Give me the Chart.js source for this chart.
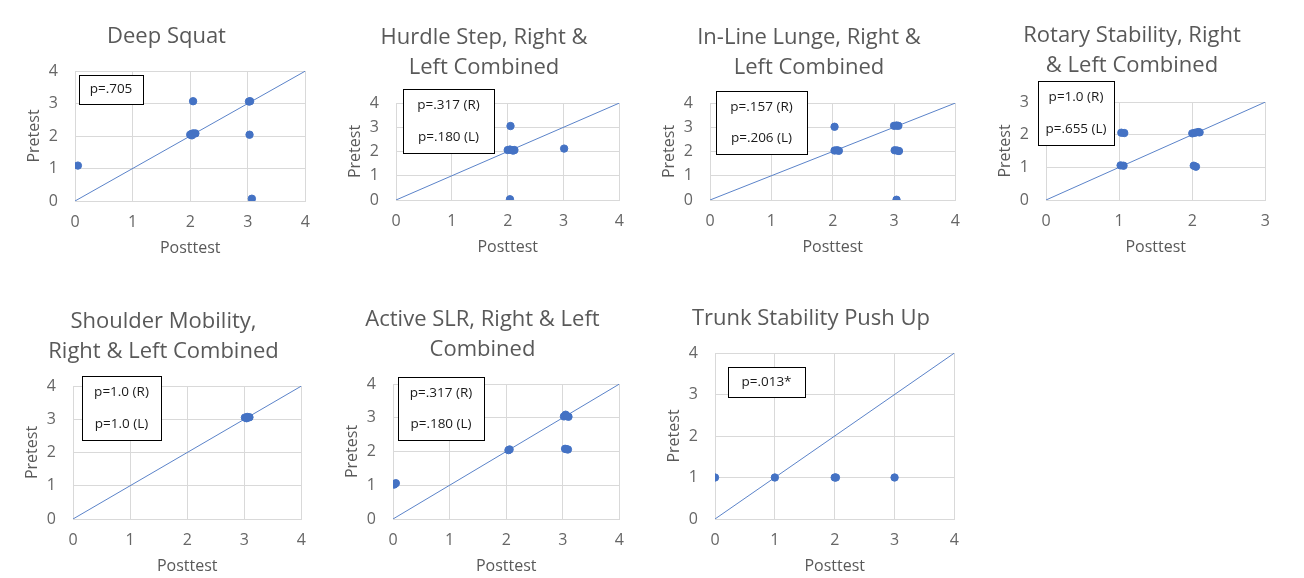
<!DOCTYPE html>
<html>
<head>
<meta charset="utf-8">
<script src="https://cdn.jsdelivr.net/npm/chart.js@4.4.0/dist/chart.umd.min.js"></script>
<style>
  body { margin: 0; background: #fff; width: 1304px; height: 578px; overflow: hidden; position: relative; }
  canvas { position: absolute; }
</style>
</head>
<body>
<script>
// posttest (x) / pretest (y) scores (small jitter as plotted)
const deepSquatPost = [0.05, 2.05, 3.02, 3.04, 2.0, 2.02, 2.05, 2.09, 2.03, 3.03, 3.07];
const deepSquatPre  = [1.09, 3.07, 3.06, 3.07, 2.04, 2.06, 2.08, 2.08, 2.02, 2.04, 0.07];

const hurdlePost = [2.05, 2.0, 2.04, 2.08, 2.12, 2.1, 3.01, 2.04];
const hurdlePre  = [3.05, 2.06, 2.08, 2.05, 2.06, 2.04, 2.12, 0.03];

const lungePost = [2.03, 3.0, 3.04, 3.07, 2.03, 2.07, 2.1, 3.01, 3.05, 3.08, 3.04];
const lungePre  = [3.02, 3.06, 3.07, 3.06, 2.04, 2.05, 2.03, 2.05, 2.04, 2.02, 0.01];

const rotaryPost = [1.03, 1.07, 1.02, 1.06, 2.0, 2.04, 2.08, 2.1, 2.02, 2.05];
const rotaryPre  = [2.06, 2.05, 1.06, 1.05, 2.04, 2.06, 2.08, 2.07, 1.05, 1.02];

const shoulderPost = [3.01, 3.05, 3.09, 3.04];
const shoulderPre  = [3.05, 3.07, 3.06, 3.03];

const slrPost = [0.02, 0.05, 2.04, 2.06, 3.02, 3.05, 3.1, 3.07, 3.04, 3.09, 3.06];
const slrPre  = [1.02, 1.06, 2.04, 2.06, 3.04, 3.09, 3.03, 3.05, 2.08, 2.06, 2.07];

const trunkPost = [0, 1, 2, 2.02, 3];
const trunkPre  = [1, 1, 1, 1, 1];

const panelTitles = [
  ['Deep Squat'],
  ['Hurdle Step, Right &', 'Left Combined'],
  ['In-Line Lunge, Right &', 'Left Combined'],
  ['Rotary Stability, Right', '& Left Combined'],
  ['Shoulder Mobility,', 'Right & Left Combined'],
  ['Active SLR, Right & Left', 'Combined'],
  ['Trunk Stability Push Up']
];
const pValues = [
  ['p=.705'],
  ['p=.317 (R)', 'p=.180 (L)'],
  ['p=.157 (R)', 'p=.206 (L)'],
  ['p=1.0 (R)', 'p=.655 (L)'],
  ['p=1.0 (R)', 'p=1.0 (L)'],
  ['p=.317 (R)', 'p=.180 (L)'],
  ['p=.013*']
];
const axisMax = [4, 4, 4, 3, 4, 4, 4];
const xTitle = 'Posttest';
const yTitle = 'Pretest';

const postSeries = [deepSquatPost, hurdlePost, lungePost, rotaryPost, shoulderPost, slrPost, trunkPost];
const preSeries  = [deepSquatPre, hurdlePre, lungePre, rotaryPre, shoulderPre, slrPre, trunkPre];

// layout of each panel on the page (plot area, title line centre, p-value box)
const layout = [
  { top: 0,   area: { l: 75,   r: 308,  t: 71,  b: 201 }, titleY: 37, box: { x: 79,   y: 75,  w: 64, h: 29 } },
  { top: 0,   area: { l: 396,  r: 622,  t: 103, b: 200 }, titleY: 38, box: { x: 403,  y: 89,  w: 91, h: 64 } },
  { top: 0,   area: { l: 710,  r: 958,  t: 103, b: 200 }, titleY: 38, box: { x: 716,  y: 91,  w: 91, h: 63 } },
  { top: 0,   area: { l: 1046, r: 1268, t: 102, b: 200 }, titleY: 36, box: { x: 1038, y: 81,  w: 76, h: 64 } },
  { top: 290, area: { l: 73,   r: 304,  t: 386, b: 519 }, titleY: 322, box: { x: 82,  y: 376, w: 79, h: 64 } },
  { top: 290, area: { l: 393,  r: 622,  t: 384, b: 519 }, titleY: 320, box: { x: 398, y: 377, w: 86, h: 63 } },
  { top: 290, area: { l: 715,  r: 957,  t: 353, b: 519 }, titleY: 319, box: { x: 728, y: 367, w: 77, h: 30 } }
];

const BLUE = '#4472C4';
const GREY = '#595959';
const TICK_GREY = '#666666';
const GRID = '#d9d9d9';
const FONT = '"Open Sans", "Noto Sans", sans-serif';
const TITLE_SIZE = 22;
const TITLE_LH = 30;
const Y_AXIS_W = 50;
const X_AXIS_H = 58;

const noteBox = {
  id: 'noteBox',
  afterDraw(chart, args, opts) {
    const ctx = chart.ctx;
    const b = opts.box;
    ctx.save();
    ctx.fillStyle = '#ffffff';
    ctx.fillRect(b.x, b.y, b.w, b.h);
    ctx.strokeStyle = '#000000';
    ctx.lineWidth = 1;
    ctx.strokeRect(Math.round(b.x) + 0.5, Math.round(b.y) + 0.5, b.w, b.h);
    ctx.fillStyle = '#1a1a1a';
    ctx.font = '13.5px ' + FONT;
    ctx.textAlign = 'center';
    ctx.textBaseline = 'middle';
    const n = opts.lines.length;
    opts.lines.forEach((t, i) => {
      ctx.fillText(t, b.x + b.w / 2, b.y + b.h * (2 * i + 1) / (2 * n));
    });
    ctx.restore();
  }
};

function buildPanel(i) {
  const L = layout[i];
  const padL = 5, padR = 14, padB = 2;
  const left = L.area.l - Y_AXIS_W - padL;
  const width = L.area.r - left + padR;
  const height = L.area.b - L.top + X_AXIS_H + padB;
  const lines = panelTitles[i].length;
  const titlePadTop = L.titleY - L.top - TITLE_LH / 2;
  const titlePadBottom = L.area.t - L.top - titlePadTop - lines * TITLE_LH;

  const canvas = document.createElement('canvas');
  canvas.width = width;
  canvas.height = height;
  canvas.style.left = left + 'px';
  canvas.style.top = L.top + 'px';
  canvas.style.width = width + 'px';
  canvas.style.height = height + 'px';
  document.body.appendChild(canvas);

  const points = postSeries[i].map((x, k) => ({ x: x, y: preSeries[i][k] }));
  const max = axisMax[i];

  new Chart(canvas.getContext('2d'), {
    type: 'scatter',
    data: {
      datasets: [{
        type: 'scatter',
        data: points,
        backgroundColor: BLUE,
        borderColor: BLUE,
        pointRadius: 3.7,
        pointHoverRadius: 3.7,
        order: 0
      }, {
        type: 'line',
        data: [{ x: 0, y: 0 }, { x: max, y: max }],
        borderColor: '#5b83c9',
        borderWidth: 1,
        pointRadius: 0,
        fill: false,
        order: 1
      }]
    },
    options: {
      responsive: false,
      animation: false,
      devicePixelRatio: 1,
      layout: { padding: { left: padL, right: padR, top: 0, bottom: padB } },
      plugins: {
        legend: { display: false },
        tooltip: { enabled: false },
        title: {
          display: true,
          text: panelTitles[i],
          color: GREY,
          font: { family: FONT, size: TITLE_SIZE, weight: 'normal', lineHeight: TITLE_LH / TITLE_SIZE },
          padding: { top: titlePadTop, bottom: titlePadBottom }
        },
        noteBox: {
          lines: pValues[i],
          box: { x: L.box.x - left, y: L.box.y - L.top, w: L.box.w, h: L.box.h }
        }
      },
      scales: {
        x: {
          type: 'linear',
          min: 0,
          max: max,
          afterFit(scale) { scale.height = X_AXIS_H; },
          ticks: { stepSize: 1, color: TICK_GREY, padding: 12, font: { family: FONT, size: 16 } },
          grid: { color: GRID, drawTicks: false },
          border: { color: GRID },
          title: { display: true, text: xTitle, color: GREY, padding: { top: 0, bottom: 1 }, font: { family: FONT, size: 16, lineHeight: 1.2 } }
        },
        y: {
          type: 'linear',
          min: 0,
          max: max,
          afterFit(scale) { scale.width = Y_AXIS_W; },
          ticks: { stepSize: 1, color: TICK_GREY, padding: 17, font: { family: FONT, size: 16 } },
          grid: { color: GRID, drawTicks: false },
          border: { color: GRID },
          title: { display: true, text: yTitle, color: GREY, padding: { top: 0, bottom: 0 }, font: { family: FONT, size: 16, lineHeight: 1.2 } }
        }
      }
    },
    plugins: [noteBox]
  });
}

for (let i = 0; i < layout.length; i++) buildPanel(i);
</script>
</body>
</html>
